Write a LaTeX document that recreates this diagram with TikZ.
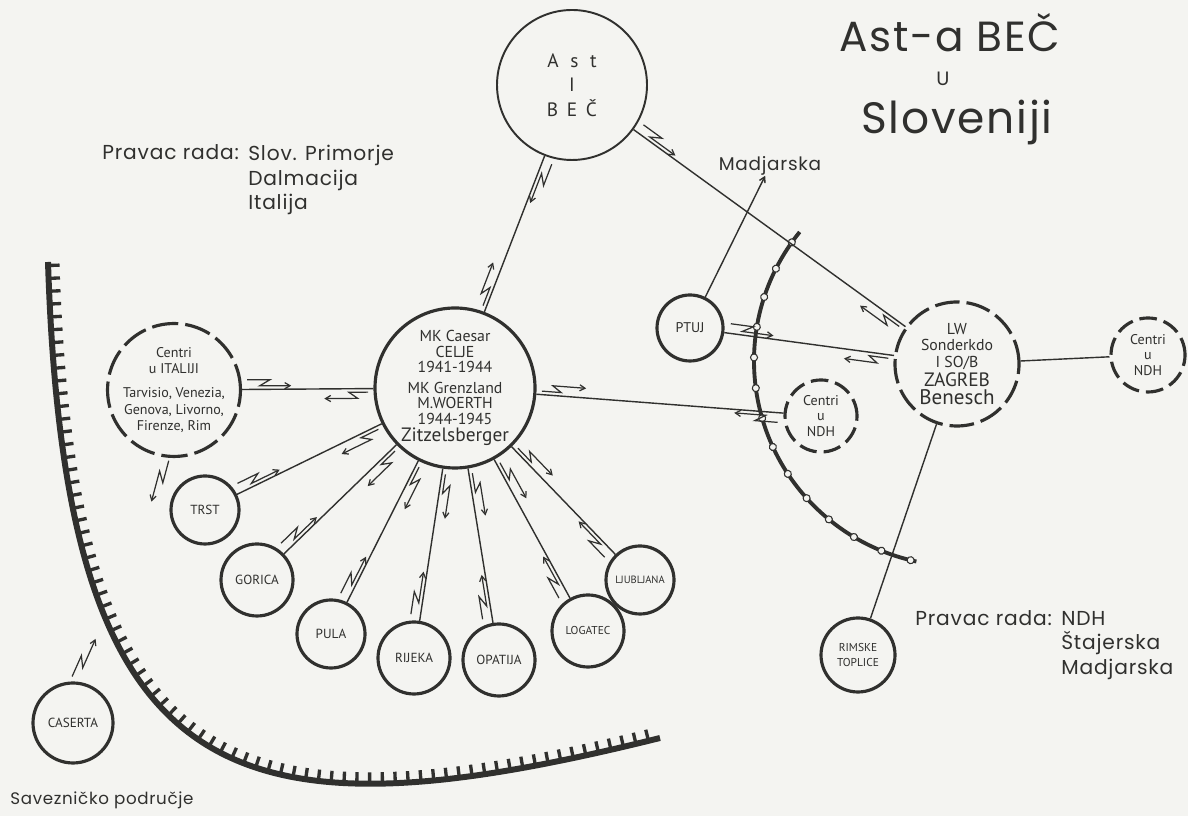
\documentclass[tikz,border=0pt]{standalone}
\usepackage{fontspec}
\setmainfont{PT Sans}
\newfontfamily\lettering{Poppins}[LetterSpace=4]
\usetikzlibrary{arrows.meta,positioning,decorations.markings}
\definecolor{ink}{RGB}{48,48,46}
\definecolor{paper}{RGB}{244,244,241}

\begin{document}
\begin{tikzpicture}[
  station/.style={draw=ink, circle, line width=1.8pt, inner sep=0pt, align=center, text=ink, font=\fontsize{7.5}{9}\selectfont},
  dashring/.style={dash pattern=on #1 off 4pt},
  label/.style={text=ink, inner sep=0pt, align=left, font=\lettering\fontsize{11.5}{14}\selectfont},
  zap/.style={draw=ink, line width=0.7pt, -{Straight Barb[length=3pt,width=3.5pt]}},
  radio/.style={draw=ink, line width=0.8pt, postaction={decorate, decoration={markings,
      mark=at position 3pt with {\draw[zap] (0,5.5pt) -- (13pt,5.5pt) -- (7pt,2pt) -- (25pt,2pt);},
      mark=at position -3pt with {\draw[zap] (0,-2pt) -- (-11pt,-2pt) -- (-6pt,-5.5pt) -- (-25pt,-5.5pt);}}}},
  lone/.style={postaction={decorate, decoration={markings,
      mark=at position 1pt with {\draw[zap] (0,5.5pt) -- (13pt,5.5pt) -- (7pt,2pt) -- (25pt,2pt);}}}},
  wire/.style={draw=ink, line width=0.8pt},
  frontier/.style={draw=ink, line width=3.4pt, postaction={decorate, decoration={markings,
      mark=between positions 2pt and -2pt step 7.3pt with {\fill[ink] (-0.95pt,0) rectangle (0.95pt,6.5pt);}}}},
  border/.style={draw=ink, line width=2.2pt, postaction={decorate, decoration={markings,
      mark=between positions 0.26cm and -0.05cm step 0.615cm with {\filldraw[fill=paper, draw=ink, line width=0.6pt] (0,0) circle (2pt);}}}}
]
  \fill[paper] (0,0) rectangle (23.76,16.32);
  \useasboundingbox (0,0) rectangle (23.76,16.32);

  % Title
  \node[text=ink, font=\lettering\fontsize{24}{26}\selectfont] (title) at (19.0,15.66) {Ast-a BEČ};
  \node[text=ink, font=\lettering\fontsize{11}{12}\selectfont] (titleu) at (18.86,14.74) {U};
  \node[text=ink, font=\lettering\fontsize{25}{27}\selectfont] (titlesl) at (19.14,13.86) {Sloveniji};

  % Borders
  \draw[frontier] (0.96,11.08) .. controls (1.3,0.5) and (4.5,-0.6) .. (13.2,1.56);
  \draw[border] (19.18,9.10) ++(141:4.1) arc[start angle=141, end angle=258, radius=4.1cm];

  % Centres
  \node[station, minimum size=3.0cm, line width=1.1pt, font=\fontsize{11}{14}\selectfont] (ast) at (11.44,14.62)
    {A\hspace{0.6em}s\hspace{0.6em}t\\I\\B\hspace{0.45em}E\hspace{0.45em}Č};
  \node[station, minimum size=3.2cm, font=\fontsize{9}{8.8}\selectfont] (zitz) at (9.10,8.56)
    {MK Caesar\\CELJE\\1941-1944\\[3pt]MK Grenzland\\M.WOERTH\\1944-1945\\[1pt]{\fontsize{11}{12}\selectfont Zitzelsberger}};
  \node[station, dashring=15pt, minimum size=2.64cm, font=\fontsize{8}{9.5}\selectfont] (italy) at (3.48,8.52)
    {Centri\\u ITALIJI\\[4pt]Tarvisio, Venezia,\\Genova, Livorno,\\Firenze, Rim};
  \node[station, dashring=14pt, minimum size=2.48cm, font=\fontsize{9}{9.5}\selectfont] (zagreb) at (19.14,9.04)
    {LW\\Sonderkdo\\I SO/B\\[1pt]{\fontsize{11}{12}\selectfont ZAGREB}\\[1pt]{\fontsize{12}{13}\selectfont Benesch}};
  \node[station, dashring=10pt, minimum size=1.44cm, font=\fontsize{8}{9}\selectfont] (ndhA) at (16.42,8.0) {Centri\\u\\NDH};
  \node[station, dashring=10pt, minimum size=1.48cm, font=\fontsize{8}{9}\selectfont] (ndhB) at (22.96,9.22) {Centri\\u\\NDH};

  % Agents
  \node[station, minimum size=1.36cm] (trst) at (4.10,6.12) {TRST};
  \node[station, minimum size=1.44cm] (gorica) at (5.14,4.72) {GORICA};
  \node[station, minimum size=1.36cm] (pula) at (6.62,3.64) {PULA};
  \node[station, minimum size=1.44cm] (rijeka) at (8.28,3.16) {RIJEKA};
  \node[station, minimum size=1.44cm] (opatija) at (9.98,3.12) {OPATIJA};
  \node[station, minimum size=1.44cm, font=\fontsize{6.5}{8}\selectfont] (logatec) at (11.76,3.70) {LOGATEC};
  \node[station, minimum size=1.36cm, font=\fontsize{6}{7}\selectfont] (ljubljana) at (12.80,4.72) {LJUBLJANA};
  \node[station, minimum size=1.6cm] (caserta) at (1.46,1.86) {CASERTA};
  \node[station, minimum size=1.32cm, font=\fontsize{8}{9}\selectfont] (ptuj) at (13.80,9.76) {PTUJ};
  \node[station, minimum size=1.48cm, font=\fontsize{6.5}{8}\selectfont] (rimske) at (17.16,3.22) {RIMSKE\\TOPLICE};

  % Labels
  \node[label, anchor=base west] (dirL) at (2.04,13.12) {Pravac rada:};
  \node[label, anchor=north west] (dirLlist) at ([xshift=5pt]dirL.north east) {Slov. Primorje\\Dalmacija\\Italija};
  \node[label, font=\lettering\fontsize{10.5}{12}\selectfont] (madj) at (15.40,13.0) {Madjarska};
  \node[label, anchor=base west] (dirR) at (18.3,3.80) {Pravac rada:};
  \node[label, anchor=north west] (dirRlist) at ([xshift=5pt]dirR.north east) {NDH\\Štajerska\\Madjarska};
  \node[label, anchor=base west, font=\lettering\fontsize{9.5}{11}\selectfont] (savez) at (0.2,0.22) {Savezničko područje};

  % Radio links
  \draw[radio] (ast) -- (zitz);
  \draw[radio] (ast) -- (zagreb);
  \draw[radio] (italy) -- (zitz);
  \draw[radio] (ndhA) -- (zitz);
  \draw[radio] (ptuj) -- (zagreb);
  \foreach \agent in {trst,gorica,pula,rijeka,opatija,logatec,ljubljana}
    \draw[radio] (\agent) -- (zitz);
  \path[lone] (italy.258) -- ++(255:1cm);
  \path[lone] (caserta.80) -- ++(66:1cm);

  % Plain links
  \draw[wire, -{Straight Barb[length=3pt,width=3.5pt]}] (ptuj) -- (madj);
  \draw[wire] (zagreb) -- (ndhB);
  \draw[wire] (zagreb) -- (rimske);
\end{tikzpicture}
\end{document}
